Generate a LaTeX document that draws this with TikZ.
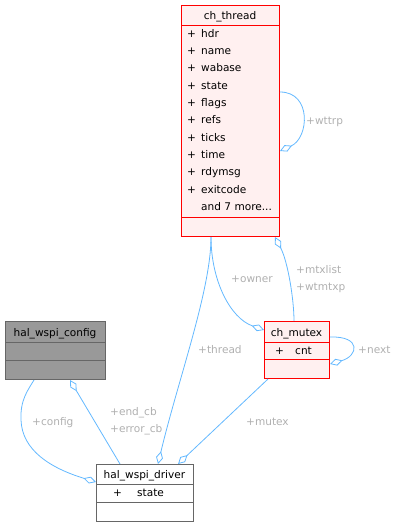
\documentclass[tikz,border=0pt]{standalone}
\usepackage{fontspec}
\setmainfont{DejaVu Sans}
\usetikzlibrary{arrows.meta}
\definecolor{edgeblue}{HTML}{63B8FF}
\definecolor{lblgray}{HTML}{B0B0B0}
\definecolor{boxgray}{HTML}{666666}
\definecolor{cfgfill}{HTML}{999999}
\definecolor{redfill}{HTML}{FFF0F0}
\tikzset{
  redbox/.style={draw=red, fill=redfill, line width=1bp, inner sep=0, anchor=north west},
  graybox/.style={draw=boxgray, fill=white, line width=1bp, inner sep=0, anchor=north west},
  cfgbox/.style={draw=boxgray, fill=cfgfill, line width=1bp, inner sep=0, anchor=north west},
  redsep/.style={draw=red, line width=1bp},
  graysep/.style={draw=boxgray, line width=1bp},
  ttl/.style={inner sep=0, anchor=mid, font=\fontsize{10.6}{12}\selectfont},
  mem/.style={inner sep=0, anchor=mid west, font=\fontsize{10.6}{12}\selectfont},
  lbl/.style={inner sep=0, anchor=mid west, text=lblgray, font=\fontsize{10.6}{12}\selectfont},
  edge/.style={draw=edgeblue, line width=0.8bp},
  dtip/.tip={Diamond[open, length=13bp, width=7bp, line width=0.8bp]}
}
\begin{document}
\begin{tikzpicture}[x=1bp,y=-1bp]
\useasboundingbox (0,0) rectangle (400,527);

% ch_thread
\node[redbox, minimum width=98bp, minimum height=231bp] (thread) at (181,5) {};
\draw[redsep] (181,26) -- (279,26);
\draw[redsep] (181,217) -- (279,217);
\node[ttl] (threadT) at (230,17) {ch\_thread};
\foreach \n [count=\i from 0] in {hdr,name,wabase,state,flags,refs,ticks,time,rdymsg,exitcode}{
  \node[mem] (tp\i) at (187,34.6+\i*17.3) {+};
  \node[mem] (tm\i) at (201,34.6+\i*17.3) {\n};
}
\node[mem] (tmore) at (201,207.6) {and 7 more...};

% ch_mutex
\node[redbox, minimum width=65bp, minimum height=57bp] (mutex) at (264,321) {};
\draw[redsep] (264,342) -- (329,342);
\draw[redsep] (264,359) -- (329,359);
\node[ttl] (mutexT) at (296.5,333.3) {ch\_mutex};
\node[mem] (mp) at (275,351.3) {+};
\node[mem] (mm) at (295,351.3) {cnt};

% hal_wspi_config
\node[cfgbox, minimum width=100bp, minimum height=58bp] (config) at (5,321) {};
\draw[graysep] (5,342) -- (105,342);
\draw[graysep] (5,360) -- (105,360);
\node[ttl] (configT) at (55,333.3) {hal\_wspi\_config};

% hal_wspi_driver
\node[graybox, minimum width=97bp, minimum height=57bp] (driver) at (96,464) {};
\draw[graysep] (96,484) -- (193,484);
\draw[graysep] (96,502) -- (193,502);
\node[ttl] (driverT) at (144.5,475.3) {hal\_wspi\_driver};
\node[mem] (dp) at (113,493.8) {+};
\node[mem] (dm) at (137,493.8) {state};

% connectors
\draw[edge, dtip-] ([xshift=62bp]driver.north west) .. controls (178,380) and (211,290) .. ([xshift=30bp]thread.south west);
\draw[edge, dtip-] ([xshift=82bp]driver.north west) -- ([xshift=4bp]mutex.south west);
\draw[edge, dtip-] ([yshift=-9bp]mutex.north west) .. controls (230,318) and (211,280) .. ([xshift=30bp]thread.south west);
\draw[edge, dtip-] ([xshift=94bp]thread.south west) .. controls (288,262) and (294,300) .. ([xshift=30bp]mutex.north west);
\draw[edge, dtip-] ([yshift=-18bp]driver.north west) .. controls (50,468) and (22,450) .. (21,420) .. controls (20,400) and (28,390) .. ([xshift=29bp]config.south west);
\draw[edge, -dtip] ([xshift=24bp]driver.north west) -- ([xshift=65bp]config.south west);
\draw[edge, dtip-] ([yshift=-146bp]thread.north east) .. controls (309,138) and (312,92) .. ([yshift=-87bp]thread.north east);
\draw[edge, dtip-] ([yshift=-43bp]mutex.north east) .. controls (358,356) and (362,336) .. ([yshift=-16bp]mutex.north east);

% labels
\node[lbl] (lwttrp) at (306,121.3) {+wttrp};
\node[lbl] (lmtx) at (296,270.3) {+mtxlist};
\node[lbl] (lwtm) at (296,287.3) {+wtmtxp};
\node[lbl] (lowner) at (231,279.3) {+owner};
\node[lbl] (lthread) at (198,350.3) {+thread};
\node[lbl] (lnext) at (358,350.3) {+next};
\node[lbl] (lmutex) at (246,422.3) {+mutex};
\node[lbl] (lconfig) at (32,422.3) {+config};
\node[lbl] (lend) at (110,412.3) {+end\_cb};
\node[lbl] (lerr) at (110,429.3) {+error\_cb};
\end{tikzpicture}
\end{document}
